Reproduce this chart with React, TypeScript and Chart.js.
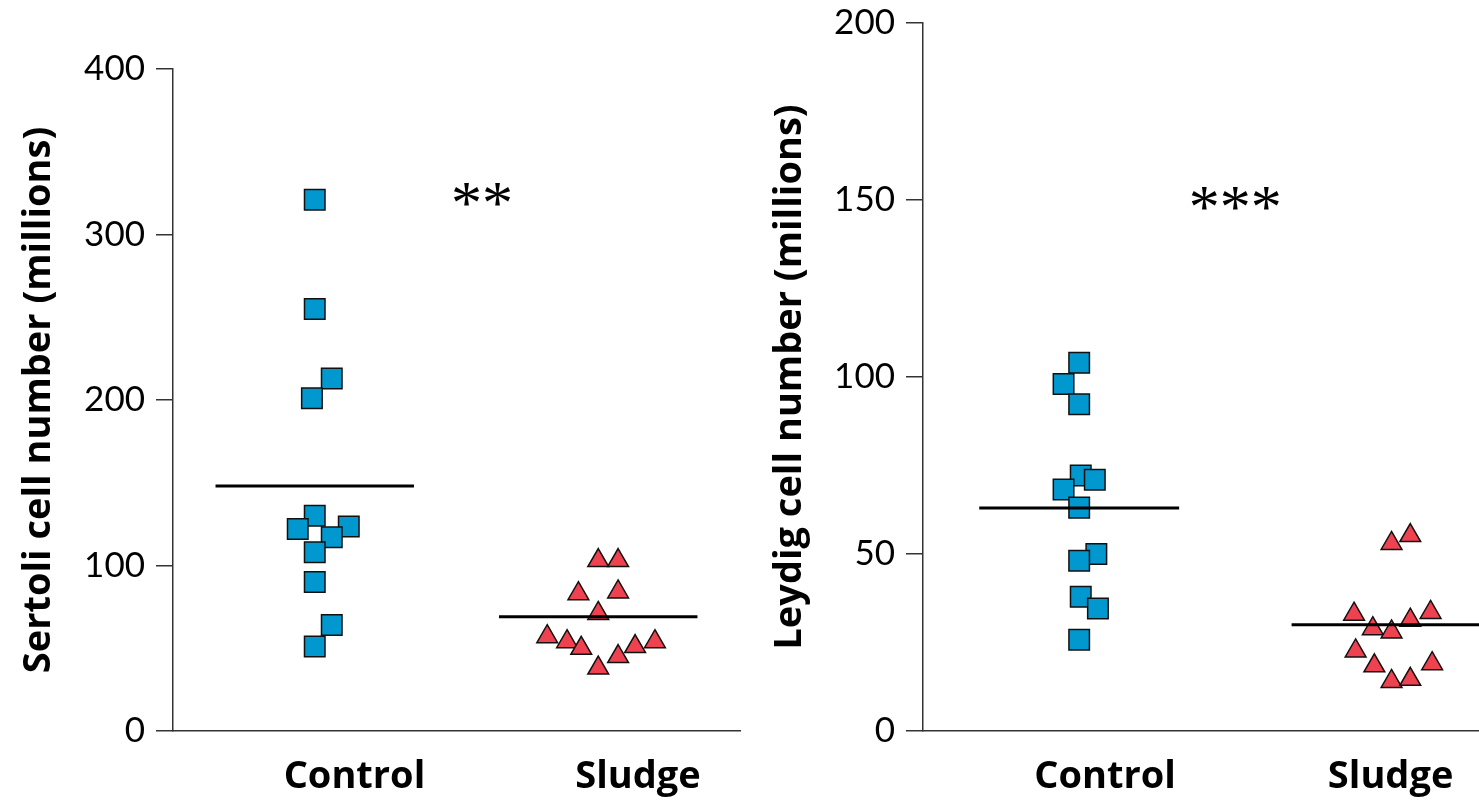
import React, { useEffect, useRef } from 'react';
import { Chart, registerables } from 'chart.js';

Chart.register(...registerables);

const CATEGORIES = ['Control', 'Sludge'];

// Panel A: Sertoli cell number (millions)
const SERTOLI_Y_TICKS = [0, 100, 200, 300, 400];
const SERTOLI_CONTROL = [321, 255, 213, 201, 130, 122, 123.5, 117, 108, 90, 64, 51];
const SERTOLI_CONTROL_JITTER = [0, 0, 0.06, -0.01, 0, -0.06, 0.12, 0.06, 0, 0, 0.06, 0];
const SERTOLI_SLUDGE = [103, 103, 83, 84, 71, 57, 54, 50, 38, 45, 51, 54];
const SERTOLI_SLUDGE_JITTER = [0, 0.07, -0.07, 0.07, 0, -0.18, -0.11, -0.06, 0, 0.07, 0.13, 0.2];
const SERTOLI_MEANS = [148, 69];
const SERTOLI_SIGNIF = '**';

// Panel B: Leydig cell number (millions)
const LEYDIG_Y_TICKS = [0, 50, 100, 150, 200];
const LEYDIG_CONTROL = [104, 98, 92.3, 72.2, 71, 68.2, 63.1, 50, 48.1, 37.9, 34.6, 25.8];
const LEYDIG_CONTROL_JITTER = [0, -0.05, 0, 0.005, 0.05, -0.05, 0, 0.055, 0, 0.005, 0.06, 0];
const LEYDIG_SLUDGE = [55.2, 53, 33, 33.5, 31.3, 28.9, 28, 22.6, 18.4, 19, 14, 14.6];
const LEYDIG_SLUDGE_JITTER = [0.06, 0, -0.12, 0.125, 0.06, -0.06, 0, -0.115, -0.055, 0.13, 0, 0.06];
const LEYDIG_MEANS = [63, 30];
const LEYDIG_SIGNIF = '***';

const BLUE = '#0098cf';
const RED = '#ee4250';
const AXIS = '#333333';

type PanelProps = {
  left: number;
  width: number;
  title: string;
  yTicks: number[];
  control: number[];
  controlJitter: number[];
  sludge: number[];
  sludgeJitter: number[];
  means: number[];
  signif: string;
  layout: {
    padTop: number;
    padRight: number;
    yWidth: number;
    xMax: number;
    labelPos: number[];
    titlePad: number;
    sigPos: { x: number; y: number };
    meanHalf: number;
  };
};

function Panel(props: PanelProps) {
  const ref = useRef<HTMLCanvasElement | null>(null);
  useEffect(() => {
    if (!ref.current) return;
    const { layout } = props;
    const yMax = props.yTicks[props.yTicks.length - 1];
    const step = props.yTicks[1] - props.yTicks[0];
    const sigPlugin = {
      id: 'signif',
      afterDatasetsDraw(chart: any) {
        const { ctx, scales } = chart;
        ctx.save();
        ctx.font = '62px "Liberation Serif"';
        ctx.textAlign = 'center';
        ctx.textBaseline = 'middle';
        ctx.fillStyle = '#000';
        ctx.fillText(
          props.signif,
          scales.x.getPixelForValue(layout.sigPos.x),
          scales.y.getPixelForValue(layout.sigPos.y)
        );
        ctx.restore();
      },
    };
    const chart = new Chart(ref.current, {
      type: 'scatter',
      data: {
        datasets: [
          {
            type: 'line',
            data: [
              { x: 1 - layout.meanHalf, y: props.means[0] },
              { x: 1 + layout.meanHalf, y: props.means[0] },
            ],
            borderColor: '#000',
            borderWidth: 3,
            pointRadius: 0,
          } as any,
          {
            type: 'line',
            data: [
              { x: 2 - layout.meanHalf, y: props.means[1] },
              { x: 2 + layout.meanHalf, y: props.means[1] },
            ],
            borderColor: '#000',
            borderWidth: 3,
            pointRadius: 0,
          } as any,
          {
            data: props.control.map((v, i) => ({ x: 1 + props.controlJitter[i], y: v })),
            pointStyle: 'rect',
            pointRadius: 14.5,
            backgroundColor: BLUE,
            borderColor: '#111',
            borderWidth: 1.5,
          },
          {
            data: props.sludge.map((v, i) => ({ x: 2 + props.sludgeJitter[i], y: v })),
            pointStyle: 'triangle',
            pointRadius: 12,
            backgroundColor: RED,
            borderColor: '#111',
            borderWidth: 1.5,
          },
        ],
      },
      options: {
        animation: false,
        responsive: true,
        maintainAspectRatio: false,
        layout: {
          autoPadding: false,
          padding: { top: layout.padTop, right: layout.padRight, left: 0, bottom: 0 },
        },
        plugins: { legend: { display: false }, tooltip: { enabled: false } },
        events: [],
        scales: {
          x: {
            type: 'linear',
            min: 0.5,
            max: layout.xMax,
            grid: { display: false, drawTicks: false },
            border: { display: true, color: AXIS, width: 1.5 },
            afterBuildTicks: (s: any) => {
              s.ticks = layout.labelPos.map((v) => ({ value: v }));
            },
            afterFit: (s: any) => {
              s.height = 71;
              s.paddingLeft = 0;
              s.paddingRight = 0;
            },
            ticks: {
              autoSkip: false,
              maxRotation: 0,
              padding: 23,
              color: '#000',
              font: { family: 'Open Sans', size: 38, weight: 'bold' },
              callback: (_v: any, i: number) => CATEGORIES[i],
            },
          },
          y: {
            type: 'linear',
            min: 0,
            max: yMax,
            grid: { drawOnChartArea: false, drawTicks: true, tickLength: 17, color: AXIS, lineWidth: 1.5 },
            border: { display: true, color: AXIS, width: 1.5 },
            afterFit: (s: any) => {
              s.width = layout.yWidth;
              s.paddingTop = 0;
              s.paddingBottom = 0;
            },
            ticks: {
              stepSize: step,
              padding: 11,
              color: '#000',
              font: { family: 'Lato', size: 35, weight: 'normal' },
            },
            title: {
              display: true,
              text: props.title,
              color: '#000',
              padding: { top: layout.titlePad, bottom: 0 },
              font: { family: 'Open Sans', size: 38, weight: 'bold' },
            },
          },
        },
      } as any,
      plugins: [sigPlugin],
    });
    return () => chart.destroy();
  }, []);
  return (
    <div
      style={{
        position: 'absolute',
        left: props.left,
        top: 0,
        width: props.width,
        height: 802,
      }}
    >
      <canvas ref={ref} />
    </div>
  );
}

export default function App() {
  return (
    <div
      style={{
        position: 'fixed',
        left: 0,
        top: 0,
        width: 1479,
        height: 802,
        background: '#fff',
        overflow: 'hidden',
      }}
    >
      <Panel
        left={0}
        width={745}
        title="Sertoli cell number (millions)"
        yTicks={SERTOLI_Y_TICKS}
        control={SERTOLI_CONTROL}
        controlJitter={SERTOLI_CONTROL_JITTER}
        sludge={SERTOLI_SLUDGE}
        sludgeJitter={SERTOLI_SLUDGE_JITTER}
        means={SERTOLI_MEANS}
        signif={SERTOLI_SIGNIF}
        layout={{
          padTop: 69,
          padRight: 5,
          yWidth: 173,
          xMax: 2.5,
          labelPos: [1.14, 2.14],
          titlePad: 16,
          sigPos: { x: 1.59, y: 317 },
          meanHalf: 0.35,
        }}
      />
      <Panel
        left={745}
        width={734}
        title="Leydig cell number (millions)"
        yTicks={LEYDIG_Y_TICKS}
        control={LEYDIG_CONTROL}
        controlJitter={LEYDIG_CONTROL_JITTER}
        sludge={LEYDIG_SLUDGE}
        sludgeJitter={LEYDIG_SLUDGE_JITTER}
        means={LEYDIG_MEANS}
        signif={LEYDIG_SIGNIF}
        layout={{
          padTop: 23,
          padRight: 0,
          yWidth: 178,
          xMax: 2.28,
          labelPos: [1.083, 1.997],
          titlePad: 22,
          sigPos: { x: 1.5, y: 147 },
          meanHalf: 0.32,
        }}
      />
    </div>
  );
}
